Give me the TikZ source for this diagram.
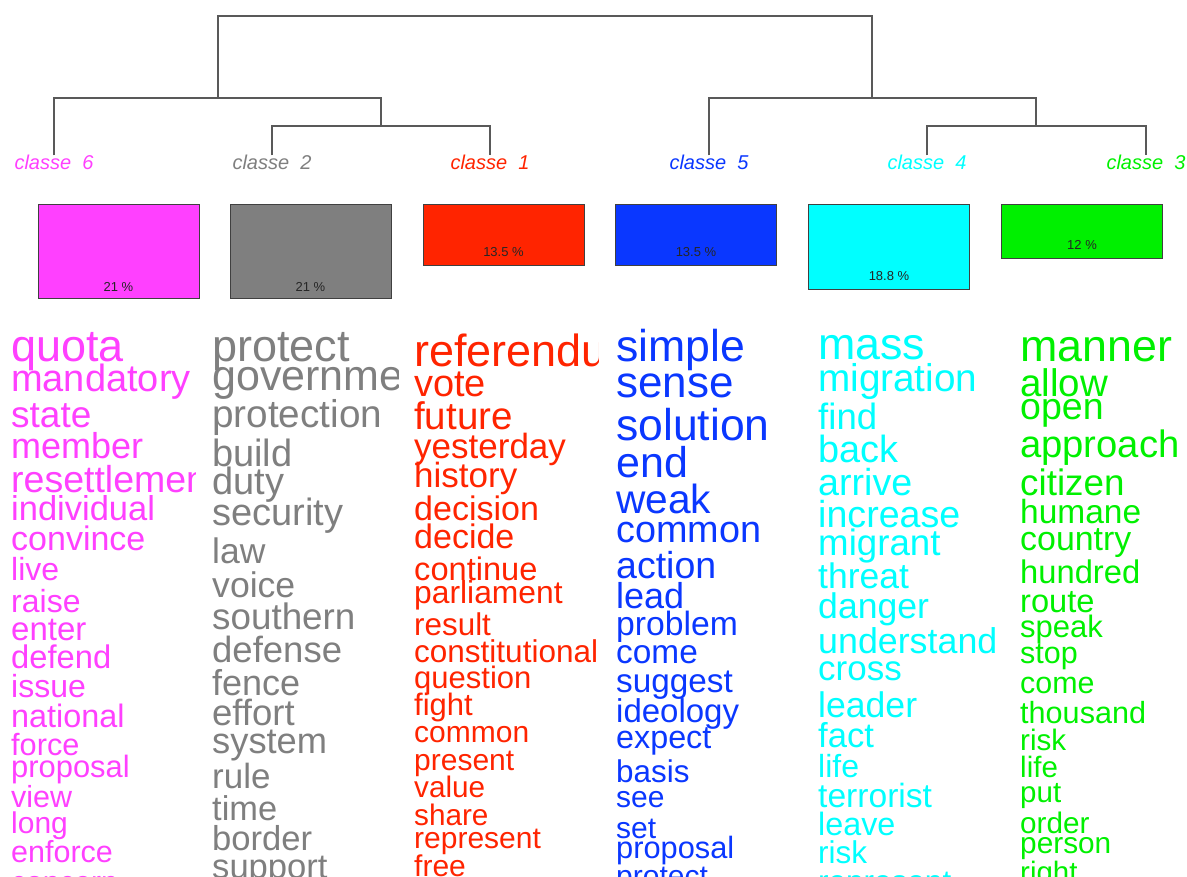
\documentclass[tikz,border=0pt]{standalone}
\usepackage{fontspec}
\setmainfont{Liberation Sans}
\usetikzlibrary{positioning}

\definecolor{c6}{HTML}{FF40FF}
\definecolor{c2}{HTML}{7F7F7F}
\definecolor{c1}{HTML}{FF2400}
\definecolor{c5}{HTML}{0A37FF}
\definecolor{c4}{HTML}{00FFFF}
\definecolor{c3}{HTML}{00F000}

\tikzset{
  tree/.style={draw=black!65, line width=1.2pt},
  klass/.style={anchor=base, inner sep=0pt, font=\itshape\fontsize{20}{20}\selectfont},
  bar/.style={draw=black!75, line width=0.8pt, minimum width=161pt, inner sep=0pt, anchor=north},
  pct/.style={inner sep=0pt, anchor=south, text=black!85, font=\fontsize{13}{13}\selectfont},
  word/.style={anchor=base west, inner sep=0pt}
}

\begin{document}
\begin{tikzpicture}[x=1pt, y=-1pt]
  \useasboundingbox (0,0) rectangle (1187,877);
  \clip (0,0) rectangle (1187,877);

  % classes
  \node[klass, text=c6] (k6) at (54,170)   {classe\ \ 6};
  \node[klass, text=c2] (k2) at (272,170)  {classe\ \ 2};
  \node[klass, text=c1] (k1) at (490,170)  {classe\ \ 1};
  \node[klass, text=c5] (k5) at (709,170)  {classe\ \ 5};
  \node[klass, text=c4] (k4) at (927,170)  {classe\ \ 4};
  \node[klass, text=c3] (k3) at (1146,170) {classe\ \ 3};

  % dendrogram
  \coordinate (m21)  at (381,126);
  \coordinate (m621) at (218,98);
  \coordinate (m43)  at (1036,126);
  \coordinate (m543) at (872,98);
  \coordinate (root) at (545,16);

  \draw[tree] (k2.north) |- (m21) -| (k1.north);
  \draw[tree] (k6.north) |- (m621) -| (m21);
  \draw[tree] (k4.north) |- (m43) -| (k3.north);
  \draw[tree] (k5.north) |- (m543) -| (m43);
  \draw[tree] (m621) |- (root) -| (m543);

  % class sizes
  \node[bar, fill=c6, minimum height=94pt] (p6) at (118.5,204) {};
  \node[bar, fill=c2, minimum height=94pt] (p2) at (310.5,204) {};
  \node[bar, fill=c1, minimum height=61pt] (p1) at (503.5,204) {};
  \node[bar, fill=c5, minimum height=61pt] (p5) at (696,204)   {};
  \node[bar, fill=c4, minimum height=85pt] (p4) at (889,204)   {};
  \node[bar, fill=c3, minimum height=54pt] (p3) at (1082,204)  {};

  \node[pct] (t6) [above=7pt of p6.south] {21 \%};
  \node[pct] (t2) [above=7pt of p2.south] {21 \%};
  \node[pct] (t1) [above=9pt of p1.south] {13.5 \%};
  \node[pct] (t5) [above=9pt of p5.south] {13.5 \%};
  \node[pct] (t4) [above=9pt of p4.south] {18.8 \%};
  \node[pct] (t3) [above=9pt of p3.south] {12 \%};

  % words of classe 6
  \begin{scope}
    \clip (0,300) rectangle (195,877);
    \foreach \word/\sz/\yb in {quota/45/362, mandatory/38/392, state/37/428,
        member/36/458, resettlement/37.5/492, individual/34.5/520, convince/34/550,
        live/32/580, raise/32/612, enter/33/640, defend/32.7/668, issue/32/697,
        national/32.4/727, force/30.7/755, proposal/30.9/777, view/30.5/807,
        long/30/833, enforce/30.5/862, concern/30/892}
      \node[word, text=c6] (w6-\word) at (11,\yb) {\fontsize{\sz}{\sz}\selectfont \word};
  \end{scope}

  % words of classe 2
  \begin{scope}
    \clip (200,300) rectangle (398,877);
    \foreach \word/\sz/\yb in {protect/45/362, government/43/391, protection/38.7/428,
        build/38/467, duty/38/494, security/38/525, law/35.5/563, voice/35.6/597,
        southern/36.8/629, defense/36.5/662, fence/36/695, effort/36.5/725,
        system/36.3/753, rule/35/788, time/34.4/820, border/34.6/850, support/34.6/878}
      \node[word, text=c2] (w2-\word) at (212,\yb) {\fontsize{\sz}{\sz}\selectfont \word};
  \end{scope}

  % words of classe 1
  \begin{scope}
    \clip (402,300) rectangle (598,877);
    \foreach \word/\sz/\yb in {referendum/45/367, vote/38/397, future/38.5/430,
        yesterday/35/458, history/35/487, decision/34/520, decide/34/548,
        continue/32.6/580, parliament/31.8/603, result/31.4/635,
        constitutional/31.5/662, question/31/688, fight/31/715, common/30/742,
        present/30/770, value/29.7/797, share/29.7/825, represent/30/848, free/30/876}
      \node[word, text=c1] (w1-\word) at (414,\yb) {\fontsize{\sz}{\sz}\selectfont \word};
  \end{scope}

  % words of classe 5
  \foreach \word/\sz/\yb in {simple/44.6/362, sense/44/398, solution/44.5/440,
      end/43/478, weak/40.7/513, common/37.8/542, action/37.5/578, lead/36/608,
      problem/33.7/635, come/33.4/663, suggest/33.3/692, ideology/33/722,
      expect/32.3/748, basis/31.4/782, see/30/807, set/30/838, proposal/30.8/858,
      protect/30/886}
    \node[word, text=c5] (w5-\word) at (616,\yb) {\fontsize{\sz}{\sz}\selectfont \word};

  % words of classe 4
  \foreach \word/\sz/\yb in {mass/44.8/360, migration/38.7/392, find/36.6/430,
      back/37.9/463, arrive/37.6/495, increase/37.6/527, migrant/36.7/555,
      threat/35.5/588, danger/35.6/618, understand/35.8/653, cross/35/680,
      leader/35.6/717, fact/34.6/747, life/32/777, terrorist/33.6/807,
      leave/32.3/835, risk/31.5/863, represent/31.5/892}
    \node[word, text=c4] (w4-\word) at (818,\yb) {\fontsize{\sz}{\sz}\selectfont \word};

  % words of classe 3
  \foreach \word/\sz/\yb in {manner/44.8/362, allow/38.5/397, open/37.5/420,
      approach/38.2/457, citizen/36.8/495, humane/33.5/523, country/33.9/550,
      hundred/32.7/583, route/32.6/612, speak/31/637, stop/30.5/663, come/30.4/693,
      thousand/30.6/723, risk/29.6/750, life/29.5/777, put/29.5/802, order/29.7/833,
      person/29.8/853, right/29.5/882}
    \node[word, text=c3] (w3-\word) at (1020,\yb) {\fontsize{\sz}{\sz}\selectfont \word};
\end{tikzpicture}
\end{document}
